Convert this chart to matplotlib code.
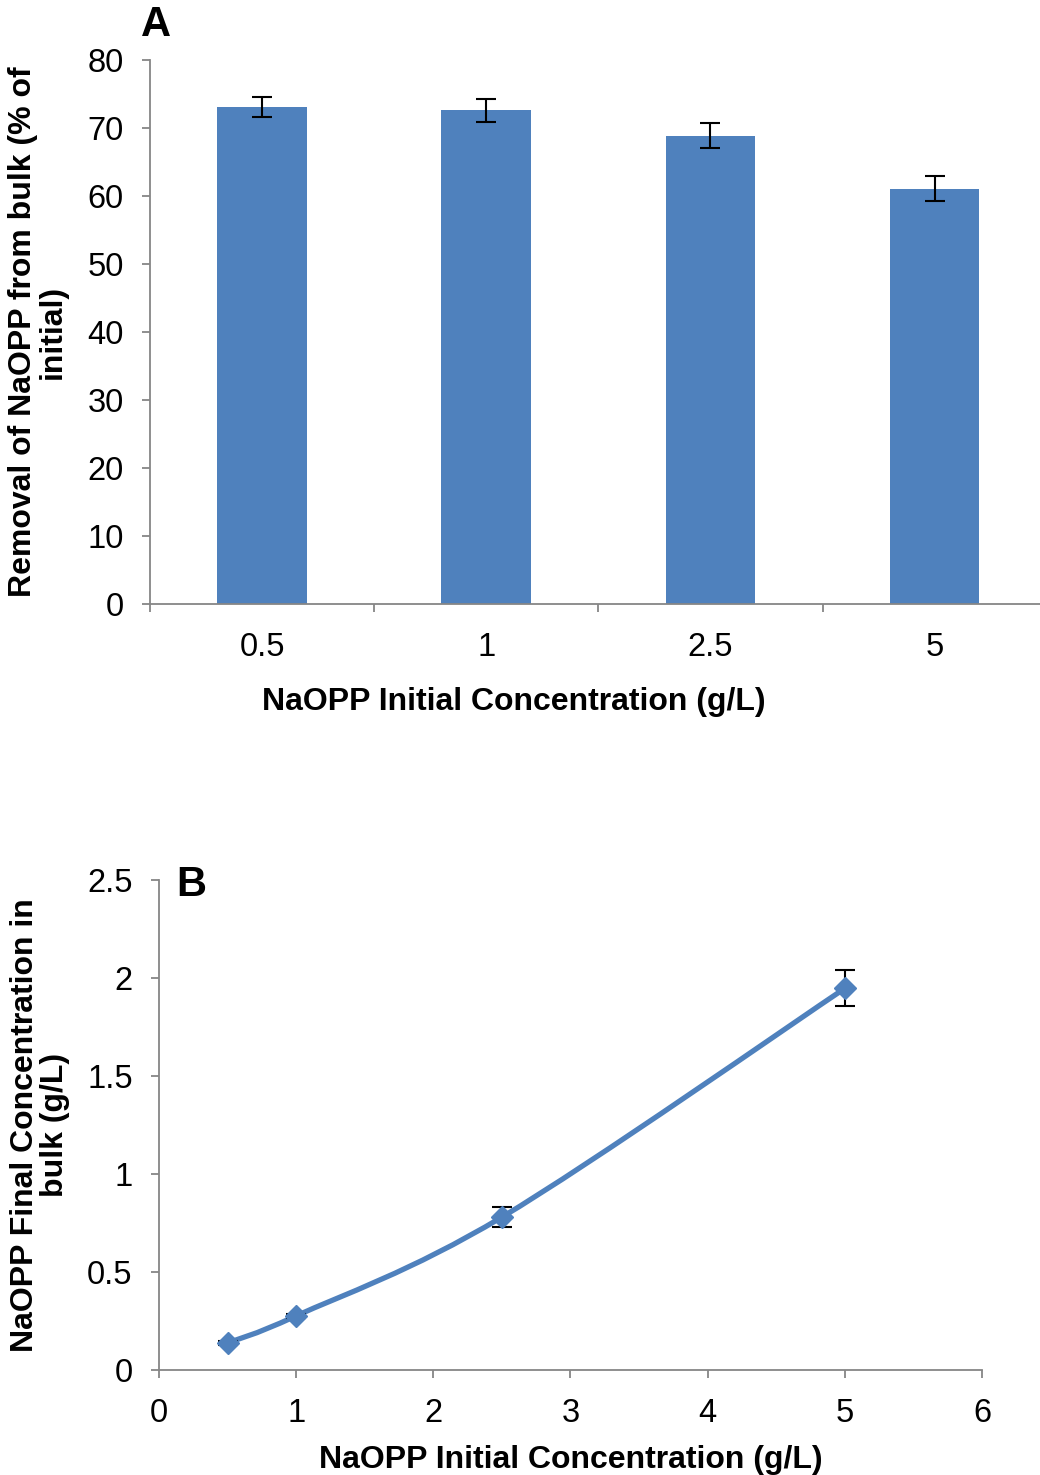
import numpy as np
import matplotlib
matplotlib.use("Agg")
import matplotlib.pyplot as plt
from matplotlib.path import Path
from matplotlib.patches import PathPatch

plt.rcParams["font.family"] = ["Liberation Sans", "DejaVu Sans"]

# panel A: removal from bulk
conc_labels = ["0.5", "1", "2.5", "5"]
removal = [73.1, 72.6, 68.9, 61.1]
removal_err = [1.5, 1.7, 1.8, 1.8]

# panel B: final concentration in bulk
conc_init = [0.5, 1.0, 2.5, 5.0]
conc_final = [0.138, 0.276, 0.78, 1.947]
conc_final_err = [0.01, 0.012, 0.05, 0.092]

BLUE = "#4F81BD"
AXIS_GREY = "#868686"
TICK_FS = 23.5
LABEL_FS = 23


def style_axes(ax):
    for side in ("top", "right"):
        ax.spines[side].set_visible(False)
    for side in ("left", "bottom"):
        ax.spines[side].set_color(AXIS_GREY)
        ax.spines[side].set_linewidth(1.3)
    ax.tick_params(which="both", direction="out", color=AXIS_GREY, width=1.3,
                   length=6, labelsize=TICK_FS, pad=10)
    ax.tick_params(axis="y", pad=13)


def smooth_path(xs, ys):
    # Catmull-Rom style bezier through the points (like a spreadsheet "smoothed line")
    pts = np.column_stack([xs, ys]).astype(float)
    n = len(pts)
    verts = [pts[0]]
    codes = [Path.MOVETO]
    for i in range(n - 1):
        p0 = pts[max(i - 1, 0)]
        p1 = pts[i]
        p2 = pts[i + 1]
        p3 = pts[min(i + 2, n - 1)]
        c1 = p1 + (p2 - p0) / 6.0
        c2 = p2 - (p3 - p1) / 6.0
        verts += [c1, c2, p2]
        codes += [Path.CURVE4] * 3
    return Path(verts, codes)


fig = plt.figure(figsize=(10.4, 14.75), dpi=100)

# ---- A ----
axA = fig.add_axes([0.1442, 0.5905, 0.8558, 0.3688])
xA = np.arange(len(removal))
axA.bar(xA, removal, width=0.4, color=BLUE, zorder=2)
axA.errorbar(xA, removal, yerr=removal_err, fmt="none", ecolor="black",
             elinewidth=1.5, capsize=7, capthick=1.5, zorder=3)
axA.set_xlim(-0.5, len(removal) - 0.53)
axA.set_ylim(0, 80)
axA.set_yticks(np.arange(0, 81, 10))
axA.set_xticks(np.arange(len(removal)) - 0.5)
axA.set_xticklabels([])
axA.set_xticks(xA, minor=True)
axA.set_xticklabels(conc_labels, minor=True)
style_axes(axA)
axA.tick_params(axis="x", which="minor", length=0, pad=20)
axA.set_ylabel("Removal of NaOPP from bulk (% of\ninitial)", fontsize=LABEL_FS,
               fontweight="bold", linespacing=1.0)
axA.yaxis.set_label_coords(-0.092, 0.5)
fig.text(514 / 1040, 1 - 702 / 1475, "NaOPP Initial Concentration (g/L)",
         fontsize=LABEL_FS, fontweight="bold", ha="center", va="center")
fig.text(156 / 1040, 1 - 25 / 1475, "A", fontsize=30, fontweight="bold",
         ha="center", va="center")

# ---- B ----
axB = fig.add_axes([0.1529, 0.0712, 0.7913, 0.3322])
axB.add_patch(PathPatch(smooth_path(conc_init, conc_final), facecolor="none",
                        edgecolor=BLUE, lw=3.8, zorder=2, capstyle="round"))
axB.errorbar(conc_init, conc_final, yerr=conc_final_err, fmt="none", ecolor="black",
             elinewidth=1.5, capsize=7, capthick=1.5, zorder=3)
axB.plot(conc_init, conc_final, linestyle="none", marker="D", markersize=11,
         color=BLUE, zorder=4)
axB.set_xlim(0, 6)
axB.set_ylim(0, 2.5)
axB.set_xticks(range(0, 7))
axB.set_yticks([0, 0.5, 1, 1.5, 2, 2.5])
axB.set_yticklabels(["0", "0.5", "1", "1.5", "2", "2.5"])
style_axes(axB)
axB.tick_params(axis="x", pad=14)
axB.set_ylabel("NaOPP Final Concentration in\nbulk (g/L)", fontsize=LABEL_FS,
               fontweight="bold", linespacing=1.0)
axB.yaxis.set_label_coords(-0.108, 0.5)
axB.set_xlabel("NaOPP Initial Concentration (g/L)", fontsize=LABEL_FS,
               fontweight="bold", labelpad=12)
fig.text(191 / 1040, 1 - 885 / 1475, "B", fontsize=30, fontweight="bold",
         ha="center", va="center")

fig.savefig("out.png", dpi=100)
